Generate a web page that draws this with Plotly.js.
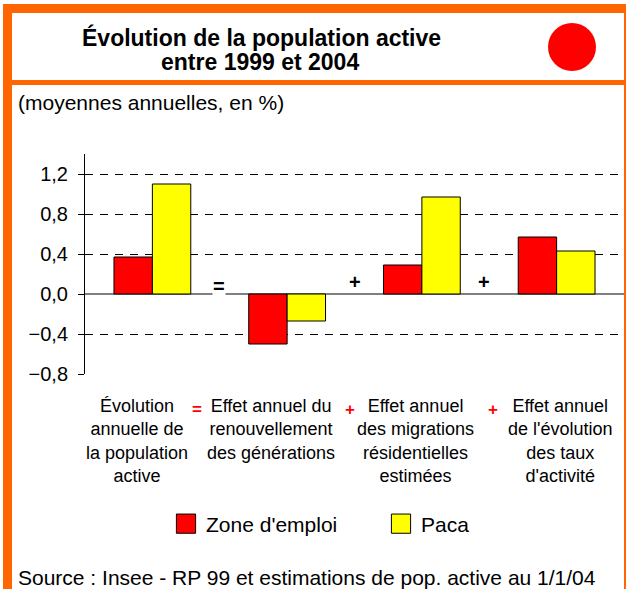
<!DOCTYPE html>
<html>
<head>
<meta charset="utf-8">
<script src="https://cdn.plot.ly/plotly-3.0.1.min.js"></script>
<style>
  html, body { margin: 0; padding: 0; background: #fff; }
  #chart { width: 626px; height: 589px; }
  /* bigger legend swatches, like the original boxes */
  #chart .legend .legendpoints path {
    transform: translate(20px, 0) scale(1.6);
    vector-effect: non-scaling-stroke;
  }
</style>
</head>
<body>
<div id="chart"></div>
<script>
// categories along x (one group each) and their multi-line captions
const categories = ["evolution", "generations", "migrations", "activite"];
const categoryLabels = [
  "Évolution<br>annuelle de<br>la population<br>active",
  "Effet annuel du<br>renouvellement<br>des générations",
  "Effet annuel<br>des migrations<br>résidentielles<br>estimées",
  "Effet annuel<br>de l'évolution<br>des taux<br>d'activité",
];
// operators between the groups: evolution = gen + migr + activite
const operators = ["=", "+", "+"];

const zoneEmploi = [0.37, -0.50, 0.29, 0.57];
const paca = [1.10, -0.27, 0.97, 0.43];

const yTicks = [-0.8, -0.4, 0.0, 0.4, 0.8, 1.2];

const ORANGE = "#ff6600";
const RED = "#ff0000";
const YELLOW = "#ffff00";
const FONT = "Liberation Sans, Arial, sans-serif";

const W = 626, H = 589;
const M = { l: 85, r: 2, t: 154, b: 215 };
const PW = W - M.l - M.r;
const PH = H - M.t - M.b;
// pixel -> paper helpers for the frame and free text
const px = (x) => (x - M.l) / PW;
const py = (y) => (H - M.b - y) / PH;

const catIdx = categories.map((_, i) => i);

const traces = [
  {
    type: "bar", name: "Zone d'emploi", x: catIdx, y: zoneEmploi,
    marker: { color: RED, line: { color: "#000", width: 1 } },
    hoverinfo: "skip",
  },
  {
    type: "bar", name: "Paca", x: catIdx, y: paca,
    marker: { color: YELLOW, line: { color: "#000", width: 1 } },
    hoverinfo: "skip",
  },
];

const rect = (x0, y0, x1, y1, color) => ({
  type: "rect", xref: "paper", yref: "paper",
  x0: px(x0), x1: px(x1), y0: py(y0), y1: py(y1),
  fillcolor: color, line: { width: 0 }, layer: "above",
});

const shapes = [
  rect(3, 4, 626, 13, ORANGE),     // top band
  rect(3, 4, 12, 589, ORANGE),     // left band
  rect(3, 80, 626, 85, ORANGE),    // separator under title
  rect(624, 4, 626, 589, ORANGE),  // right edge
  {
    type: "circle", xref: "paper", yref: "paper",
    x0: px(548), x1: px(596), y0: py(23), y1: py(71),
    fillcolor: RED, line: { width: 0 },
  },
];

const textAnn = (text, x, y, size, opts = {}) => ({
  text, xref: "paper", yref: "paper", x: px(x), y: py(y),
  showarrow: false, font: { family: FONT, size, color: "#000" },
  xanchor: "center", yanchor: "middle", ...opts,
});

// small nudges so captions sit where the original put them
const labelShift = [-15, -16, -6, 4];
const opInPlotShift = [-1, 0, -5];
const opInLabelShift = [-23, -5, 4];

const annotations = [
  textAnn("<b>Évolution de la population active</b>", 261, 37, 23),
  textAnn("<b>entre 1999 et 2004</b>", 260, 62, 23),
  textAnn("(moyennes annuelles, en %)", 16, 103, 21, { xanchor: "left" }),
  textAnn("Source : Insee - RP 99 et estimations de pop. active au 1/1/04", 16, 577, 21, { xanchor: "left" }),
];

categoryLabels.forEach((t, i) => {
  annotations.push({
    text: t, x: i, xref: "x", y: py(394), yref: "paper",
    xshift: labelShift[i], showarrow: false,
    xanchor: "center", yanchor: "top",
    font: { family: FONT, size: 18, color: "#000" },
  });
});

operators.forEach((op, i) => {
  // sign sitting on the zero line between groups
  annotations.push({
    text: "<b>" + op + "</b>", x: i + 0.5, xref: "x", y: 0, yref: "y",
    xshift: opInPlotShift[i], yshift: op === "=" ? -4 : 0, showarrow: false,
    xanchor: "center", yanchor: "bottom",
    bgcolor: op === "=" ? "#fff" : "rgba(0,0,0,0)", borderpad: 0,
    font: { family: FONT, size: 20, color: "#000" },
  });
  // red sign between captions
  annotations.push({
    text: "<b>" + op + "</b>", x: i + 0.5, xref: "x", y: py(409), yref: "paper",
    xshift: opInLabelShift[i], showarrow: false,
    xanchor: "center", yanchor: "middle",
    font: { family: FONT, size: 17, color: RED },
  });
});

const layout = {
  width: W, height: H,
  margin: M,
  paper_bgcolor: "#fff",
  plot_bgcolor: "#fff",
  font: { family: FONT, size: 18, color: "#000" },
  separators: ", ",
  barmode: "group",
  bargap: 0.43,
  bargroupgap: 0,
  xaxis: {
    type: "linear",
    range: [-0.5, 3.5],
    showticklabels: false, showgrid: false, zeroline: false,
    showline: false, ticks: "",
  },
  yaxis: {
    range: [-0.8, 1.4],
    tickvals: yTicks,
    tickformat: ".1f",
    ticks: "outside", ticklen: 6, tickcolor: "#000", tickwidth: 1,
    ticklabelstandoff: 6,
    showline: true, linecolor: "#000", linewidth: 1,
    showgrid: true, gridcolor: "#000", gridwidth: 1, griddash: "8px,7px",
    zeroline: true, zerolinecolor: "#808080", zerolinewidth: 2,
    tickfont: { family: FONT, size: 20, color: "#000" },
  },
  legend: {
    orientation: "h",
    x: px(166), xanchor: "left",
    y: py(524), yanchor: "middle",
    font: { family: FONT, size: 21, color: "#000" },
    entrywidth: 170,
    bgcolor: "rgba(0,0,0,0)",
  },
  shapes,
  annotations,
};

Plotly.newPlot("chart", traces, layout, { displayModeBar: false, staticPlot: true });
</script>
</body>
</html>
